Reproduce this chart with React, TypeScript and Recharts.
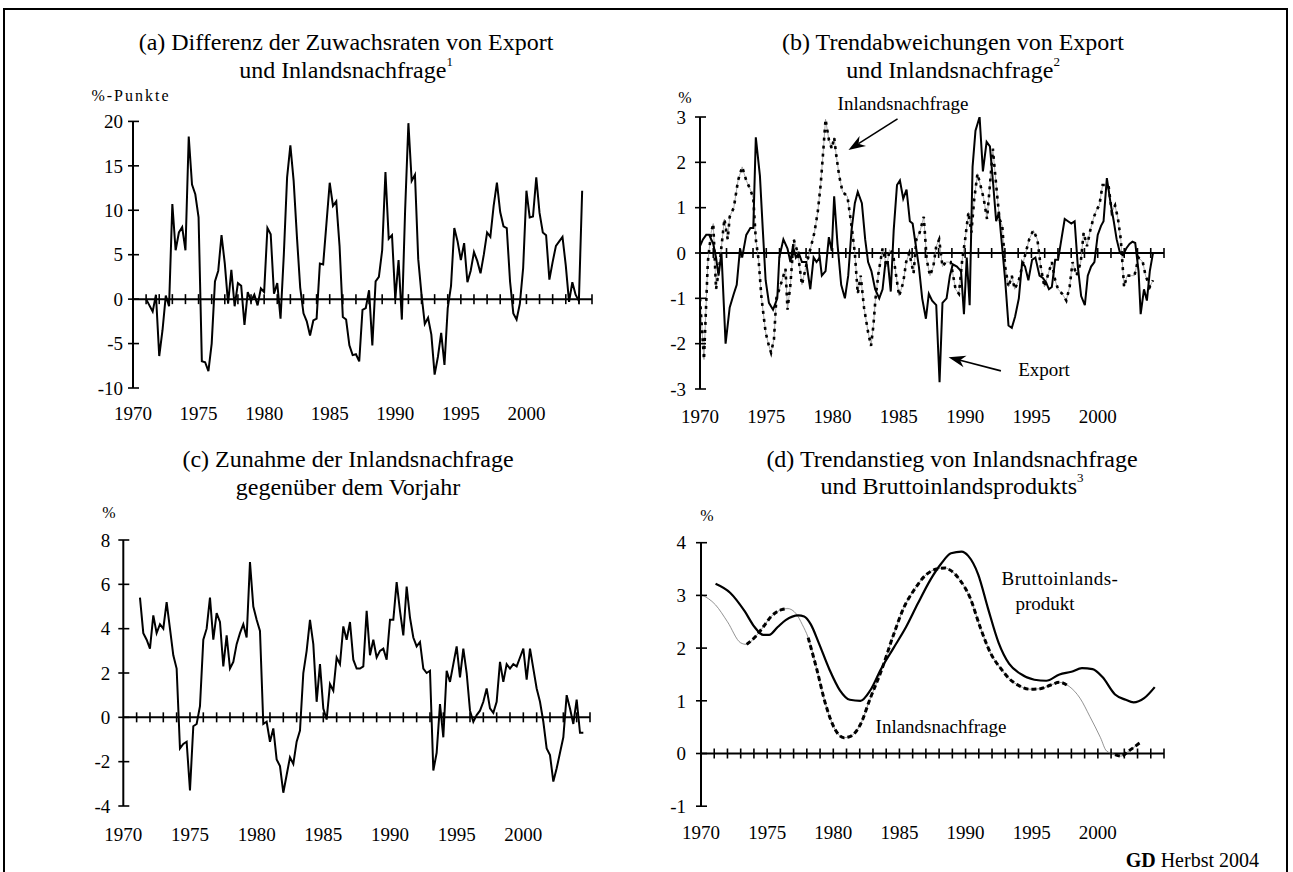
import React from "react"
import { LineChart, Line, XAxis, YAxis, ReferenceLine, ReferenceDot } from "recharts"

const FONT = "'Times New Roman', 'Liberation Serif', Times, serif"

// shared axis marks
const labelYears = [1970, 1975, 1980, 1985, 1990, 1995, 2000]
const yearTicks = Array.from({ length: 35 }, (_, i) => 1971 + i)

// (a) Differenz der Zuwachsraten, quarterly from 1971 Q1
const aStart = 1971
const aValues = [
  0, -0.7, -1.4, 0.5, -6.4, -3.5, 0.4, -0.8, 10.7, 5.5,
  7.5, 8.1, 5.5, 18.3, 12.9, 11.8, 9.2, -7.0, -7.1, -8.1,
  -5.0, 2.0, 3.2, 7.2, 4.0, -0.5, 3.3, -0.8, 1.8, 1.5,
  -2.9, 0.8, -0.2, 0.5, -0.7, 1.2, 0.8, 8.0, 7.3, 0.6,
  1.8, -2.2, 5.0, 13.7, 17.3, 13.3, 7.0, 1.3, -1.6, -2.5,
  -4.1, -2.4, -2.2, 4.0, 3.9, 8.5, 13.1, 10.5, 11.0, 6.0,
  -2.0, -2.3, -5.2, -6.3, -6.2, -7.0, -1.2, -1.0, 1.0, -5.2,
  2.0, 2.5, 5.5, 14.3, 6.8, 7.2, 0.0, 4.4, -2.3, 10.0,
  19.8, 13.3, 14.0, 4.5, 0.5, -2.8, -2.1, -4.0, -8.5, -6.5,
  -3.8, -7.4, -1.0, 1.5, 8.0, 6.5, 4.4, 6.3, 1.9, 3.2,
  5.3, 4.3, 2.9, 5.0, 7.5, 7.0, 10.5, 13.1, 9.8, 8.2,
  8.0, 2.0, -1.6, -2.3, -0.5, 3.5, 12.2, 9.2, 9.3, 13.7,
  9.7, 7.5, 7.2, 2.2, 4.2, 6.0, 6.5, 7.0, 3.8, -0.3,
  1.9, 0.5, -0.2, 12.2,
]
const aYTicks = [-10, -5, 0, 5, 10, 15, 20]

// (b) Trendabweichungen
const bExportT = [
  1970.0, 1970.22, 1970.47, 1970.69, 1971.0, 1971.21, 1971.4, 1971.62, 1971.93, 1972.24,
  1972.55, 1972.77, 1973.02, 1973.18, 1973.49, 1973.8, 1974.02, 1974.21, 1974.52, 1974.74,
  1974.95, 1975.2, 1975.51, 1975.83, 1975.98, 1976.29, 1976.6, 1976.82, 1977.01, 1977.23,
  1977.45, 1977.69, 1978.01, 1978.32, 1978.57, 1978.79, 1979.03, 1979.19, 1979.47, 1979.72,
  1979.94, 1980.12, 1980.37, 1980.65, 1980.93, 1981.18, 1981.43, 1981.68, 1981.9, 1982.21,
  1982.46, 1982.68, 1982.93, 1983.21, 1983.52, 1983.77, 1983.99, 1984.17, 1984.39, 1984.61,
  1984.86, 1985.08, 1985.33, 1985.58, 1985.83, 1986.04, 1986.26, 1986.51, 1986.76, 1987.04,
  1987.26, 1987.51, 1987.82, 1988.07, 1988.29, 1988.6, 1988.85, 1989.07, 1989.38, 1989.69,
  1989.91, 1990.12, 1990.34, 1990.56, 1990.78, 1991.09, 1991.34, 1991.62, 1991.87, 1992.12,
  1992.34, 1992.55, 1992.8, 1993.02, 1993.27, 1993.52, 1993.77, 1994.05, 1994.3, 1994.52,
  1994.77, 1995.05, 1995.3, 1995.61, 1995.86, 1996.11, 1996.32, 1996.54, 1996.79, 1997.01,
  1997.26, 1997.51, 1997.76, 1998.01, 1998.26, 1998.5, 1998.75, 1999.03, 1999.25, 1999.5,
  1999.75, 2000.0, 2000.25, 2000.44, 2000.69, 2000.97, 2001.21, 2001.43, 2001.68, 2001.9,
  2002.15, 2002.4, 2002.62, 2002.83, 2003.08, 2003.24, 2003.49, 2003.71, 2003.93, 2004.17,
]
const bExportV = [
  0.15, 0.3, 0.4, 0.4, 0.2, -0.1, -0.5, 0, -2.0, -1.2,
  -0.9, -0.7, 0.1, -0.1, 0.4, 0.55, 0.55, 2.55, 1.7, 0.5,
  -0.6, -1.1, -1.25, -1.0, -0.1, 0.3, 0.1, -0.2, 0.15, -0.1,
  0, -0.2, -0.2, -0.8, -0.1, -0.2, -0.1, -0.5, -0.4, 0.35,
  0.05, 1.25, 0.2, -0.7, -1.0, -0.5, 0.5, 1.1, 1.35, 1.1,
  0.3, -0.2, -0.4, -0.8, -1.0, -0.8, -0.2, -0.2, -0.85, 0.5,
  1.5, 1.6, 1.2, 1.4, 0.7, 0.65, 0.2, -0.3, -1.0, -1.45,
  -0.9, -1.05, -1.15, -2.85, -1.1, -1.0, -0.5, -0.25, -0.3, -0.4,
  -1.35, -0.1, -1.15, 1.9, 2.7, 3.0, 1.8, 2.45, 2.35, 1.5,
  0.7, 0.9, 0.1, -0.6, -1.6, -1.65, -1.4, -1.0, -0.2, -0.3,
  -0.6, -0.15, -0.1, -0.5, -0.55, -0.65, -0.8, -0.75, -0.15, -0.15,
  0.3, 0.75, 0.7, 0.65, 0.7, -0.3, -0.95, -1.15, -0.5, -0.3,
  -0.2, 0.4, 0.6, 0.7, 1.65, 1.1, 0.7, 0.3, 0.0, -0.05,
  0.1, 0.2, 0.25, 0.22, -0.4, -1.35, -0.8, -1.05, -0.4, 0.0,
]
const bInlandT = [
  1970.0, 1970.3, 1970.59, 1970.84, 1971.0, 1971.21, 1971.46, 1971.84, 1972.09, 1972.24,
  1972.55, 1972.87, 1973.18, 1973.49, 1973.8, 1974.02, 1974.21, 1974.42, 1974.64, 1974.95,
  1975.2, 1975.36, 1975.58, 1975.76, 1976.14, 1976.45, 1976.6, 1976.82, 1977.07, 1977.38,
  1977.69, 1978.07, 1978.38, 1978.63, 1978.88, 1979.1, 1979.31, 1979.47, 1979.72, 1979.94,
  1980.12, 1980.28, 1980.5, 1980.75, 1981.12, 1981.43, 1981.68, 1981.9, 1982.12, 1982.37,
  1982.68, 1982.9, 1983.08, 1983.24, 1983.46, 1983.77, 1984.08, 1984.3, 1984.55, 1984.77,
  1985.02, 1985.33, 1985.55, 1985.79, 1986.11, 1986.32, 1986.57, 1986.88, 1987.1, 1987.35,
  1987.6, 1987.82, 1988.04, 1988.29, 1988.54, 1988.91, 1989.28, 1989.53, 1989.78, 1990.0,
  1990.25, 1990.47, 1990.69, 1990.93, 1991.15, 1991.4, 1991.65, 1991.87, 1992.09, 1992.34,
  1992.59, 1992.8, 1993.02, 1993.27, 1993.52, 1993.74, 1994.05, 1994.3, 1994.52, 1994.83,
  1995.14, 1995.45, 1995.7, 1995.98, 1996.23, 1996.54, 1996.79, 1997.01, 1997.32, 1997.63,
  1997.88, 1998.1, 1998.41, 1998.72, 1998.94, 1999.19, 1999.44, 1999.66, 1999.91, 2000.12,
  2000.37, 2000.59, 2000.81, 2001.06, 2001.31, 2001.53, 2001.74, 2001.99, 2002.21, 2002.46,
  2002.77, 2003.08, 2003.4, 2003.61, 2003.93, 2004.17,
]
const bInlandV = [
  -1.0, -2.35, -0.2, 0.45, 0.65, -0.8, -0.3, 0.75, 0.3, 0.8,
  1.0, 1.6, 1.9, 1.6, 1.4, 1.2, 0.3, -0.15, -1.0, -1.75,
  -2.05, -2.2, -1.9, -1.0, -0.65, -0.35, -1.25, -0.7, 0.3, 0,
  -0.7, -0.2, 0.15, 0.45, 0.9, 1.5, 2.3, 2.95, 2.5, 2.3,
  2.55, 2.15, 1.7, 1.35, 1.25, 0.6, 0, -0.9, -0.5, -1.2,
  -1.75, -2.05, -1.6, -1.0, -0.45, 0.1, -0.3, 0.07, 0, -0.45,
  -0.95, -0.65, -0.2, 0, -0.45, 0.3, 0.45, 0.8, -0.15, -0.5,
  -0.3, 0.15, 0.3, -0.3, -0.2, -0.2, -0.8, -0.9, -0.15, 0.3,
  0.9, 0.45, 1.2, 1.75, 1.5, 1.2, 0.75, 1.5, 2.3, 1.5,
  0.75, 0.6, -0.3, -0.75, -0.5, -0.8, -0.6, -0.3, -0.05, 0.3,
  0.5, 0.3, -0.3, -0.75, -0.5, -0.2, -0.6, -0.8, -0.9, -1.05,
  -0.75, -0.2, -0.5, -0.2, 0.45, 0.15, 0.5, 0.75, 0.95, 1.05,
  1.5, 1.5, 1.5, 0.9, 1.05, 0.75, 0.3, -0.75, -0.5, -0.5,
  -0.5, -0.1, -0.2, -0.5, -0.75, -0.6,
]
const bYTicks = [-3, -2, -1, 0, 1, 2, 3]

// (c) Zunahme der Inlandsnachfrage, quarterly from 1971 Q2
const cStart = 1971.25
const cValues = [
  5.4, 3.8, 3.5, 3.1, 4.6, 3.8, 4.2, 4.0, 5.2, 4.0,
  2.8, 2.2, -1.4, -1.2, -1.1, -3.3, -0.4, -0.3, 0.5, 3.5,
  4.0, 5.4, 3.5, 4.7, 4.3, 2.3, 3.7, 2.2, 2.5, 3.3,
  3.8, 4.2, 3.6, 7.0, 5.0, 4.4, 3.9, -0.3, -0.2, -1.1,
  -0.5, -1.9, -2.2, -3.4, -2.6, -1.8, -2.1, -1.1, -0.6, 2.0,
  3.0, 4.4, 3.3, 0.7, 2.4, 0.4, -0.1, 1.5, 1.2, 2.7,
  2.4, 4.1, 3.5, 4.3, 2.6, 2.2, 2.2, 2.3, 4.8, 2.8,
  3.5, 2.7, 3.0, 3.1, 2.6, 4.4, 4.4, 6.1, 4.8, 3.7,
  5.9, 4.5, 3.6, 3.2, 3.4, 2.2, 2.0, 2.1, -2.4, -1.6,
  0.6, -0.9, 2.1, 1.6, 2.4, 3.2, 1.8, 3.1, 2.0, 0.3,
  -0.2, 0.1, 0.3, 0.7, 1.3, 0.4, 0.2, 0.7, 2.5, 1.6,
  2.4, 2.2, 2.4, 2.3, 2.7, 3.1, 1.7, 3.1, 2.2, 1.3,
  0.7, -0.2, -1.4, -1.7, -2.9, -2.3, -1.6, -0.9, 1.0, 0.4,
  -0.3, 0.8, -0.7, -0.7,
]
const cYTicks = [-4, -2, 0, 2, 4, 6, 8]

// (d) Trendanstieg
const dBipT = [
  1971.1, 1972.2, 1973.3, 1974.05, 1974.7, 1975.15, 1975.8, 1976.4, 1977.35, 1977.8,
  1978.3, 1978.9, 1979.7, 1980.5, 1981.25, 1982.05, 1982.8, 1983.6, 1984.55, 1985.5,
  1986.4, 1987.35, 1988.15, 1988.9, 1989.7, 1990.2, 1990.95, 1991.7, 1992.5, 1993.3,
  1994.1, 1995.2, 1996.1, 1997.1, 1998.0, 1998.8, 1999.6, 2000.35, 2001.3, 2002.1,
  2002.7, 2003.5, 2004.3,
]
const dBipV = [
  3.22, 3.05, 2.7, 2.4, 2.25, 2.25, 2.4, 2.53, 2.62, 2.6,
  2.45, 2.1, 1.6, 1.2, 1.02, 1.0, 1.2, 1.6, 2.0, 2.4,
  2.85, 3.3, 3.6, 3.8, 3.83, 3.75, 3.4, 2.75, 2.1, 1.7,
  1.52, 1.4, 1.38, 1.5, 1.55, 1.62, 1.6, 1.45, 1.12, 1.02,
  0.97, 1.05, 1.26,
]
const dInlandT = [
  1970.0, 1971.1, 1972.0, 1973.0, 1973.45, 1974.05, 1974.7, 1975.3, 1976.1, 1976.55,
  1977.2, 1977.65, 1978.1, 1978.75, 1979.4, 1980.15, 1980.8, 1981.25, 1982.05, 1982.8,
  1983.6, 1984.55, 1985.3, 1986.1, 1987.05, 1987.8, 1988.45, 1988.9, 1989.55, 1990.35,
  1991.1, 1991.9, 1992.7, 1993.3, 1994.1, 1994.85, 1995.65, 1996.45, 1997.1, 1997.85,
  1998.65, 1999.4, 2000.2, 2000.65, 2001.3, 2001.75, 2002.35, 2003.15,
]
const dInlandV = [
  3.02, 2.82, 2.5, 2.1, 2.07, 2.2, 2.4, 2.6, 2.73, 2.75,
  2.65, 2.45, 2.2, 1.6, 0.95, 0.45, 0.3, 0.32, 0.55, 1.05,
  1.55, 2.25, 2.75, 3.1, 3.4, 3.5, 3.52, 3.47, 3.3, 2.95,
  2.4, 1.9, 1.6, 1.42, 1.28, 1.22, 1.23, 1.3, 1.35, 1.27,
  1.05, 0.7, 0.3, 0.05, -0.02, -0.05, 0.05, 0.2,
]
// stretches where the original only shows the thin connecting line
const dInlandThin = [
  [1970, 1973.45],
  [1976.6, 1977.7],
  [1998.0, 2000.8],
]
const dYTicks = [-1, 0, 1, 2, 3, 4]

const quarterly = (start: number, vals: number[]) => vals.map((v, i) => ({ t: start + i / 4, v }))
const paired = (ts: number[], vs: number[]) =>
  ts.slice(0, Math.min(ts.length, vs.length)).map((t, i) => ({ t, v: vs[i] }))

const aData = quarterly(aStart, aValues)
const cData = quarterly(cStart, cValues)
const bExport = paired(bExportT, bExportV)
const bInland = paired(bInlandT, bInlandV)
const dBip = paired(dBipT, dBipV)
const dInland = paired(dInlandT, dInlandV)
const dInlandDashed = dInland.map((p) => ({
  t: p.t,
  v: dInlandThin.some(([a, b]) => p.t >= a && p.t < b) ? null : p.v,
}))

const tickStyle = { fill: "#000", fontSize: 19, fontFamily: FONT }

const VTick = (p: any) => (
  <line x1={p.cx} x2={p.cx} y1={p.cy - 5} y2={p.cy + 5} stroke="#000" strokeWidth={1.6} />
)
const HTick = (p: any) => (
  <line x1={p.cx - 5} x2={p.cx + 6} y1={p.cy} y2={p.cy} stroke="#000" strokeWidth={1.6} />
)

const Arrow = (p: any) => {
  const { x1, y1, x2, y2 } = p
  const dx = x2 - x1
  const dy = y2 - y1
  const len = Math.hypot(dx, dy) || 1
  const ux = dx / len
  const uy = dy / len
  const L = 17
  const W = 6
  const bx = x2 - ux * L
  const by = y2 - uy * L
  const nx = x2 - ux * L * 0.7
  const ny = y2 - uy * L * 0.7
  return (
    <g>
      <line x1={x1} y1={y1} x2={nx} y2={ny} stroke="#000" strokeWidth={1.6} />
      <polygon
        points={`${x2},${y2} ${bx - uy * W},${by + ux * W} ${nx},${ny} ${bx + uy * W},${by - ux * W}`}
        fill="#000"
      />
    </g>
  )
}

function frame(yDomain: [number, number], yTicks: number[], yMargin: number, xMargin: number, yWidth: number) {
  return [
    <XAxis
      key="x"
      type="number"
      dataKey="t"
      domain={[1970, 2005]}
      ticks={labelYears}
      interval={0}
      axisLine={false}
      tickLine={false}
      tickSize={0}
      tickMargin={xMargin}
      height={30}
      tick={tickStyle}
      allowDataOverflow
    />,
    <YAxis
      key="y"
      type="number"
      domain={yDomain}
      ticks={yTicks}
      interval={0}
      axisLine={{ stroke: "#000", strokeWidth: 2 }}
      tickLine={false}
      tickSize={0}
      tickMargin={yMargin}
      width={yWidth}
      tick={tickStyle}
      allowDataOverflow
    />,
    <ReferenceLine key="zero" y={0} stroke="#000" strokeWidth={2} />,
    ...yearTicks.map((yr) => (
      <ReferenceDot key={"xt" + yr} x={yr} y={0} r={0} shape={VTick} ifOverflow="visible" />
    )),
    ...yTicks.map((v) => (
      <ReferenceDot key={"yt" + v} x={1970} y={v} r={0} shape={HTick} ifOverflow="visible" />
    )),
  ]
}

const box = (left: number, top: number): React.CSSProperties => ({ position: "absolute", left, top })

export default function App() {
  return (
    <div
      style={{
        position: "absolute",
        left: 0,
        top: 0,
        width: 1293,
        height: 872,
        overflow: "hidden",
        background: "#fff",
        fontFamily: FONT,
      }}
    >
      <div
        style={{
          position: "absolute",
          left: 3,
          top: 8,
          width: 1285,
          height: 900,
          border: "2px solid #000",
          boxSizing: "border-box",
        }}
      />

      {/* (a) */}
      <div style={box(0, 0)}>
        <LineChart width={646} height={430} margin={{ top: 121.4, right: 54, bottom: 12, left: 93 }}>
          {frame([-10, 20], aYTicks, 10, 19, 40)}
          <Line data={aData} dataKey="v" type="linear" stroke="#000" strokeWidth={2} dot={false} isAnimationActive={false} />
        </LineChart>
      </div>

      {/* (b) */}
      <div style={box(646, 0)}>
        <LineChart width={647} height={430} margin={{ top: 117, right: 129, bottom: 11, left: 24 }}>
          {frame([-3, 3], bYTicks, 14, 21, 30)}
          <Line data={bInland} dataKey="v" type="linear" stroke="#888" strokeWidth={0.7} dot={false} isAnimationActive={false} />
          <Line data={bInland} dataKey="v" type="linear" stroke="#000" strokeWidth={2.6} strokeDasharray="3 5" dot={false} isAnimationActive={false} />
          <Line data={bExport} dataKey="v" type="linear" stroke="#000" strokeWidth={2} dot={false} isAnimationActive={false} />
          <ReferenceLine segment={[{ x: 1984.9, y: 2.96 }, { x: 1981.2, y: 2.27 }]} shape={Arrow} ifOverflow="visible" />
          <ReferenceLine segment={[{ x: 1992.7, y: -2.6 }, { x: 1988.75, y: -2.3 }]} shape={Arrow} ifOverflow="visible" />
        </LineChart>
      </div>

      {/* (c) */}
      <div style={box(0, 430)}>
        <LineChart width={646} height={442} margin={{ top: 110, right: 56, bottom: 36, left: 83.3 }}>
          {frame([-4, 8], cYTicks, 13, 22, 40)}
          <Line data={cData} dataKey="v" type="linear" stroke="#000" strokeWidth={2} dot={false} isAnimationActive={false} />
        </LineChart>
      </div>

      {/* (d) */}
      <div style={box(646, 430)}>
        <LineChart width={647} height={442} margin={{ top: 112.7, right: 129, bottom: 35.8, left: 25 }}>
          {frame([-1, 4], dYTicks, 15, 19, 30)}
          <Line data={dInland} dataKey="v" type="monotone" stroke="#777" strokeWidth={0.8} dot={false} isAnimationActive={false} />
          <Line data={dInlandDashed} dataKey="v" type="monotone" stroke="#000" strokeWidth={3} strokeDasharray="5 3" dot={false} isAnimationActive={false} />
          <Line data={dBip} dataKey="v" type="monotone" stroke="#000" strokeWidth={2.2} dot={false} isAnimationActive={false} />
        </LineChart>
      </div>

      <svg
        width={1293}
        height={872}
        style={{ position: "absolute", left: 0, top: 0, pointerEvents: "none" }}
        fontFamily={FONT}
        fill="#000"
      >
        <g fontSize={24} textAnchor="middle" dominantBaseline="central">
          <text x={346} y={42}>(a) Differenz der Zuwachsraten von Export</text>
          <text x={346} y={70}>
            und Inlandsnachfrage<tspan fontSize={13} dy={-9}>1</tspan>
          </text>
          <text x={953} y={42}>(b) Trendabweichungen von Export</text>
          <text x={953} y={70}>
            und Inlandsnachfrage<tspan fontSize={13} dy={-9}>2</tspan>
          </text>
          <text x={348} y={459}>(c) Zunahme der Inlandsnachfrage</text>
          <text x={348} y={487}>gegenüber dem Vorjahr</text>
          <text x={952} y={459}>(d) Trendanstieg von Inlandsnachfrage</text>
          <text x={952} y={486}>
            und Bruttoinlandsprodukts<tspan fontSize={13} dy={-9}>3</tspan>
          </text>
        </g>
        <g fontSize={16} textAnchor="middle" dominantBaseline="central">
          <text x={131} y={95} letterSpacing={2}>%-Punkte</text>
          <text x={685} y={97}>%</text>
          <text x={109} y={512}>%</text>
          <text x={707} y={515}>%</text>
        </g>
        <g fontSize={19} textAnchor="middle" dominantBaseline="central">
          <text x={903} y={103}>Inlandsnachfrage</text>
          <text x={1044} y={369}>Export</text>
          <text x={1060} y={578} letterSpacing={0.5}>Bruttoinlands-</text>
          <text x={1045} y={603}>produkt</text>
          <text x={941} y={726}>Inlandsnachfrage</text>
        </g>
        <text x={1259} y={860} fontSize={20} textAnchor="end" dominantBaseline="central">
          <tspan fontWeight="bold">GD</tspan> Herbst 2004
        </text>
      </svg>
    </div>
  )
}
